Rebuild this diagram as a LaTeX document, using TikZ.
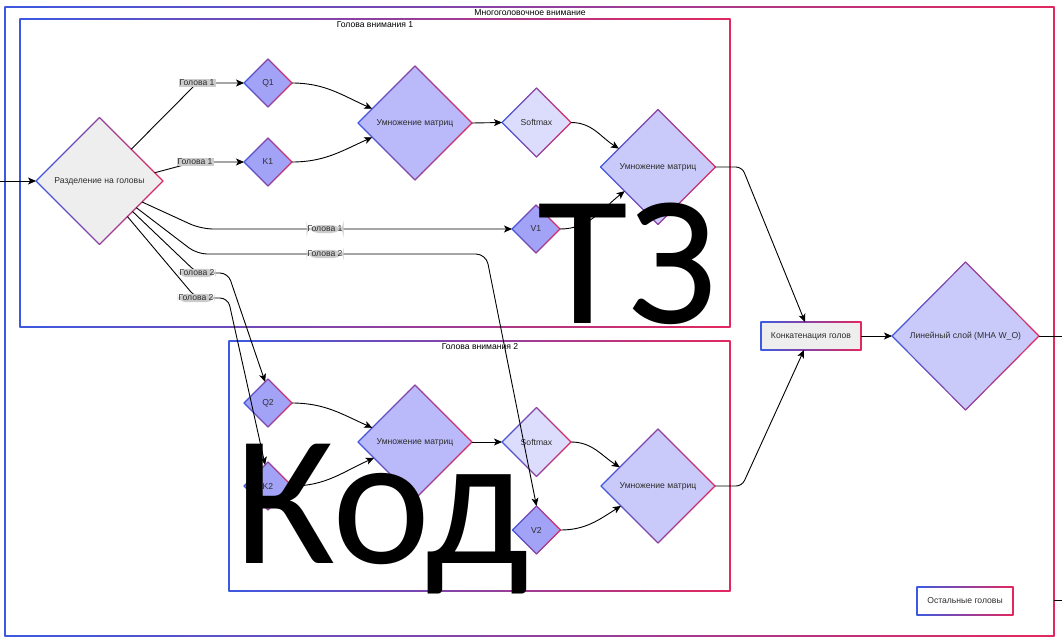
\documentclass[tikz,border=0pt]{standalone}
\usepackage{fontspec}
\setmainfont{Liberation Sans}
\newfontfamily\bigfont{Carlito}
\usetikzlibrary{shapes.geometric,calc,arrows.meta}
\definecolor{gblue}{RGB}{60,90,225}
\definecolor{gpink}{RGB}{225,40,95}
\definecolor{txt}{RGB}{45,45,45}
\definecolor{lblbg}{RGB}{204,204,204}
\definecolor{qkv}{RGB}{162,162,246}
\definecolor{mmA}{RGB}{186,186,250}
\definecolor{smx}{RGB}{220,220,252}
\definecolor{mmB}{RGB}{202,202,250}
\definecolor{greyfill}{RGB}{238,238,238}
\newcommand\gdiam[1]{%
 \foreach \i in {0,...,7}{%
  \pgfmathsetmacro\fa{\i/8}%
  \pgfmathsetmacro\fb{(\i+1)/8}%
  \pgfmathsetmacro\pc{50*(\i+0.5)/8}%
  \pgfmathsetmacro\pd{50+50*(\i+0.5)/8}%
  \draw[gline,draw={gpink!\pc!gblue}] ($(#1.west)!\fa!(#1.north)$) -- ($(#1.west)!\fb!(#1.north)$);
  \draw[gline,draw={gpink!\pc!gblue}] ($(#1.west)!\fa!(#1.south)$) -- ($(#1.west)!\fb!(#1.south)$);
  \draw[gline,draw={gpink!\pd!gblue}] ($(#1.north)!\fa!(#1.east)$) -- ($(#1.north)!\fb!(#1.east)$);
  \draw[gline,draw={gpink!\pd!gblue}] ($(#1.south)!\fa!(#1.east)$) -- ($(#1.south)!\fb!(#1.east)$);
 }}
\newcommand\grect[1]{%
 \draw[gline,draw=gblue] (#1.north west) -- (#1.south west);
 \draw[gline,draw=gpink] (#1.north east) -- (#1.south east);
 \foreach \i in {0,...,23}{%
  \pgfmathsetmacro\fa{\i/24}%
  \pgfmathsetmacro\fb{(\i+1)/24}%
  \pgfmathsetmacro\pc{100*(\i+0.5)/24}%
  \draw[gline,draw={gpink!\pc!gblue}] ($(#1.north west)!\fa!(#1.north east)$) -- ($(#1.north west)!\fb!(#1.north east)$);
  \draw[gline,draw={gpink!\pc!gblue}] ($(#1.south west)!\fa!(#1.south east)$) -- ($(#1.south west)!\fb!(#1.south east)$);
 }}
\tikzset{
 gline/.style={line width=1.2pt, line cap=round},
 dia/.style={diamond, inner sep=0pt, outer sep=0pt, font=\fontsize{8.6}{10}\selectfont, text=txt},
 box/.style={rectangle, inner sep=0pt, outer sep=0pt, font=\fontsize{8.6}{10}\selectfont, text=txt},
 frame/.style={rectangle, inner sep=0pt, outer sep=0pt},
 ttl/.style={font=\fontsize{8.6}{10}\selectfont, text=black, inner sep=0pt},
 lbl/.style={fill=lblbg, inner sep=1pt, font=\fontsize{8.6}{10}\selectfont, text=txt},
 conn/.style={draw=black, line width=0.9pt},
 arr/.style={conn, -{Stealth[length=8pt,width=7pt,inset=2pt]}},
 bigtxt/.style={font=\bigfont\fontsize{186}{190}\selectfont, text=black, inner sep=0pt},
}
\begin{document}
\begin{tikzpicture}[x=1pt,y=-1pt]
\useasboundingbox[fill=white] (0,0) rectangle (1062,643);
% frames
\node[frame, minimum width=1049pt, minimum height=629pt] (outer) at (529.5,321.5) {};
\node[frame, minimum width=710pt, minimum height=308pt] (h1) at (375,173) {};
\node[frame, minimum width=501pt, minimum height=250pt] (h2) at (479.5,466) {};
\grect{outer}\grect{h1}\grect{h2}
\node[ttl] (outerT) at (530,13) {Многоголовочное внимание};
\node[ttl] (h1T) at (375,25) {Голова внимания 1};
\node[ttl] (h2T) at (480,347) {Голова внимания 2};
% nodes
\node[dia, fill=greyfill, minimum width=127pt, minimum height=127pt] (split) at (99.5,181) {Разделение на головы};
\node[dia, fill=qkv, minimum width=48pt, minimum height=48pt] (Q1) at (268,83) {Q1};
\node[dia, fill=qkv, minimum width=48pt, minimum height=48pt] (K1) at (268,162) {K1};
\node[dia, fill=qkv, minimum width=48pt, minimum height=48pt] (V1) at (536,229) {V1};
\node[dia, fill=qkv, minimum width=48pt, minimum height=48pt] (Q2) at (268,403) {Q2};
\node[dia, fill=qkv, minimum width=48pt, minimum height=48pt] (K2) at (268,486) {K2};
\node[dia, fill=qkv, minimum width=48pt, minimum height=48pt] (V2) at (536.5,530) {V2};
\node[dia, fill=mmA, minimum width=114pt, minimum height=114pt] (m1) at (415,123) {Умножение матриц};
\node[dia, fill=smx, minimum width=69pt, minimum height=69pt] (s1) at (536.5,122.5) {Softmax};
\node[dia, fill=mmB, minimum width=115pt, minimum height=115pt] (m2) at (658,167) {Умножение матриц};
\node[dia, fill=mmA, minimum width=114pt, minimum height=114pt] (m3) at (415,442) {Умножение матриц};
\node[dia, fill=smx, minimum width=69pt, minimum height=69pt] (s2) at (536.5,442) {Softmax};
\node[dia, fill=mmB, minimum width=114pt, minimum height=114pt] (m4) at (658,486) {Умножение матриц};
\node[box, fill=greyfill, minimum width=100pt, minimum height=28pt] (concat) at (811,336) {Конкатенация голов};
\node[dia, fill=mmB, minimum width=147pt, minimum height=148pt] (lin) at (965.5,336) {Линейный слой (MHA W\_O)};
\node[box, fill=white, minimum width=96pt, minimum height=28pt] (rest) at (965,601) {Остальные головы};
\gdiam{split}\gdiam{Q1}\gdiam{K1}\gdiam{V1}\gdiam{Q2}\gdiam{K2}\gdiam{V2}
\gdiam{m1}\gdiam{s1}\gdiam{m2}\gdiam{m3}\gdiam{s2}\gdiam{m4}\gdiam{lin}
\grect{concat}\grect{rest}
% connectors
\coordinate (inL) at (0,181);
\coordinate (outR) at (1062,336);
\coordinate (stubA) at (1054,600);
\coordinate (stubB) at (1062,600);
\draw[arr] (inL) -- (split.west);
\draw[arr] (split.north east) -- (197,83) node[lbl]{Голова 1} -- (Q1.west);
\draw[arr] ($(split.north)!0.87!(split.east)$) -- (195,162) node[lbl]{Голова 1} -- (K1.west);
\draw[arr, rounded corners=12pt] ($(split.east)!0.33!(split.south)$) -- (201,229) -- (325,229) node[lbl]{Голова 1} -- (V1.west);
\draw[arr, rounded corners=10pt] ($(split.east)!0.42!(split.south)$) -- (197,254) -- (325,254) node[lbl]{Голова 2} -- (486,254) -- (V2.north);
\draw[arr, rounded corners=8pt] ($(split.east)!0.48!(split.south)$) -- (197,273) node[lbl]{Голова 2} -- (228,273) -- ($(Q2.north)!0.12!(Q2.west)$);
\draw[arr, rounded corners=8pt] ($(split.east)!0.56!(split.south)$) -- (196,298) node[lbl]{Голова 2} -- (228,298) -- ($(K2.north)!0.12!(K2.west)$);
\draw[arr] (Q1.east) to[out=0,in=156] ($(m1.west)!0.25!(m1.north)$);
\draw[arr] (K1.east) to[out=0,in=204] ($(m1.west)!0.25!(m1.south)$);
\draw[arr] (m1.east) -- (s1.west);
\draw[arr] (s1.east) to[out=0,in=148] ($(m2.west)!0.32!(m2.north)$);
\draw[arr] (V1.east) to[out=0,in=218] ($(m2.west)!0.42!(m2.south)$);
\draw[arr] (Q2.east) to[out=0,in=156] ($(m3.west)!0.25!(m3.north)$);
\draw[arr] (K2.east) to[out=0,in=204] ($(m3.west)!0.28!(m3.south)$);
\draw[arr] (m3.east) -- (s2.west);
\draw[arr] (s2.east) to[out=0,in=148] ($(m4.west)!0.33!(m4.north)$);
\draw[arr] (V2.east) to[out=0,in=212] ($(m4.west)!0.35!(m4.south)$);
\draw[arr, rounded corners=6pt] (m2.east) -- (742,167) -- ($(concat.north)+(-6,0)$);
\draw[arr, rounded corners=6pt] (m4.east) -- (742,486) -- ($(concat.south)+(-7,0)$);
\draw[arr] (concat.east) -- (lin.west);
\draw[conn] (lin.east) -- (outR);
\draw[conn] (stubA) -- (stubB);
% overlay text
\node[bigtxt, anchor=base] (tz) at (627,323) {ТЗ};
\node[bigtxt, anchor=base] (kod) at (382,563) {Код};
\end{tikzpicture}
\end{document}
